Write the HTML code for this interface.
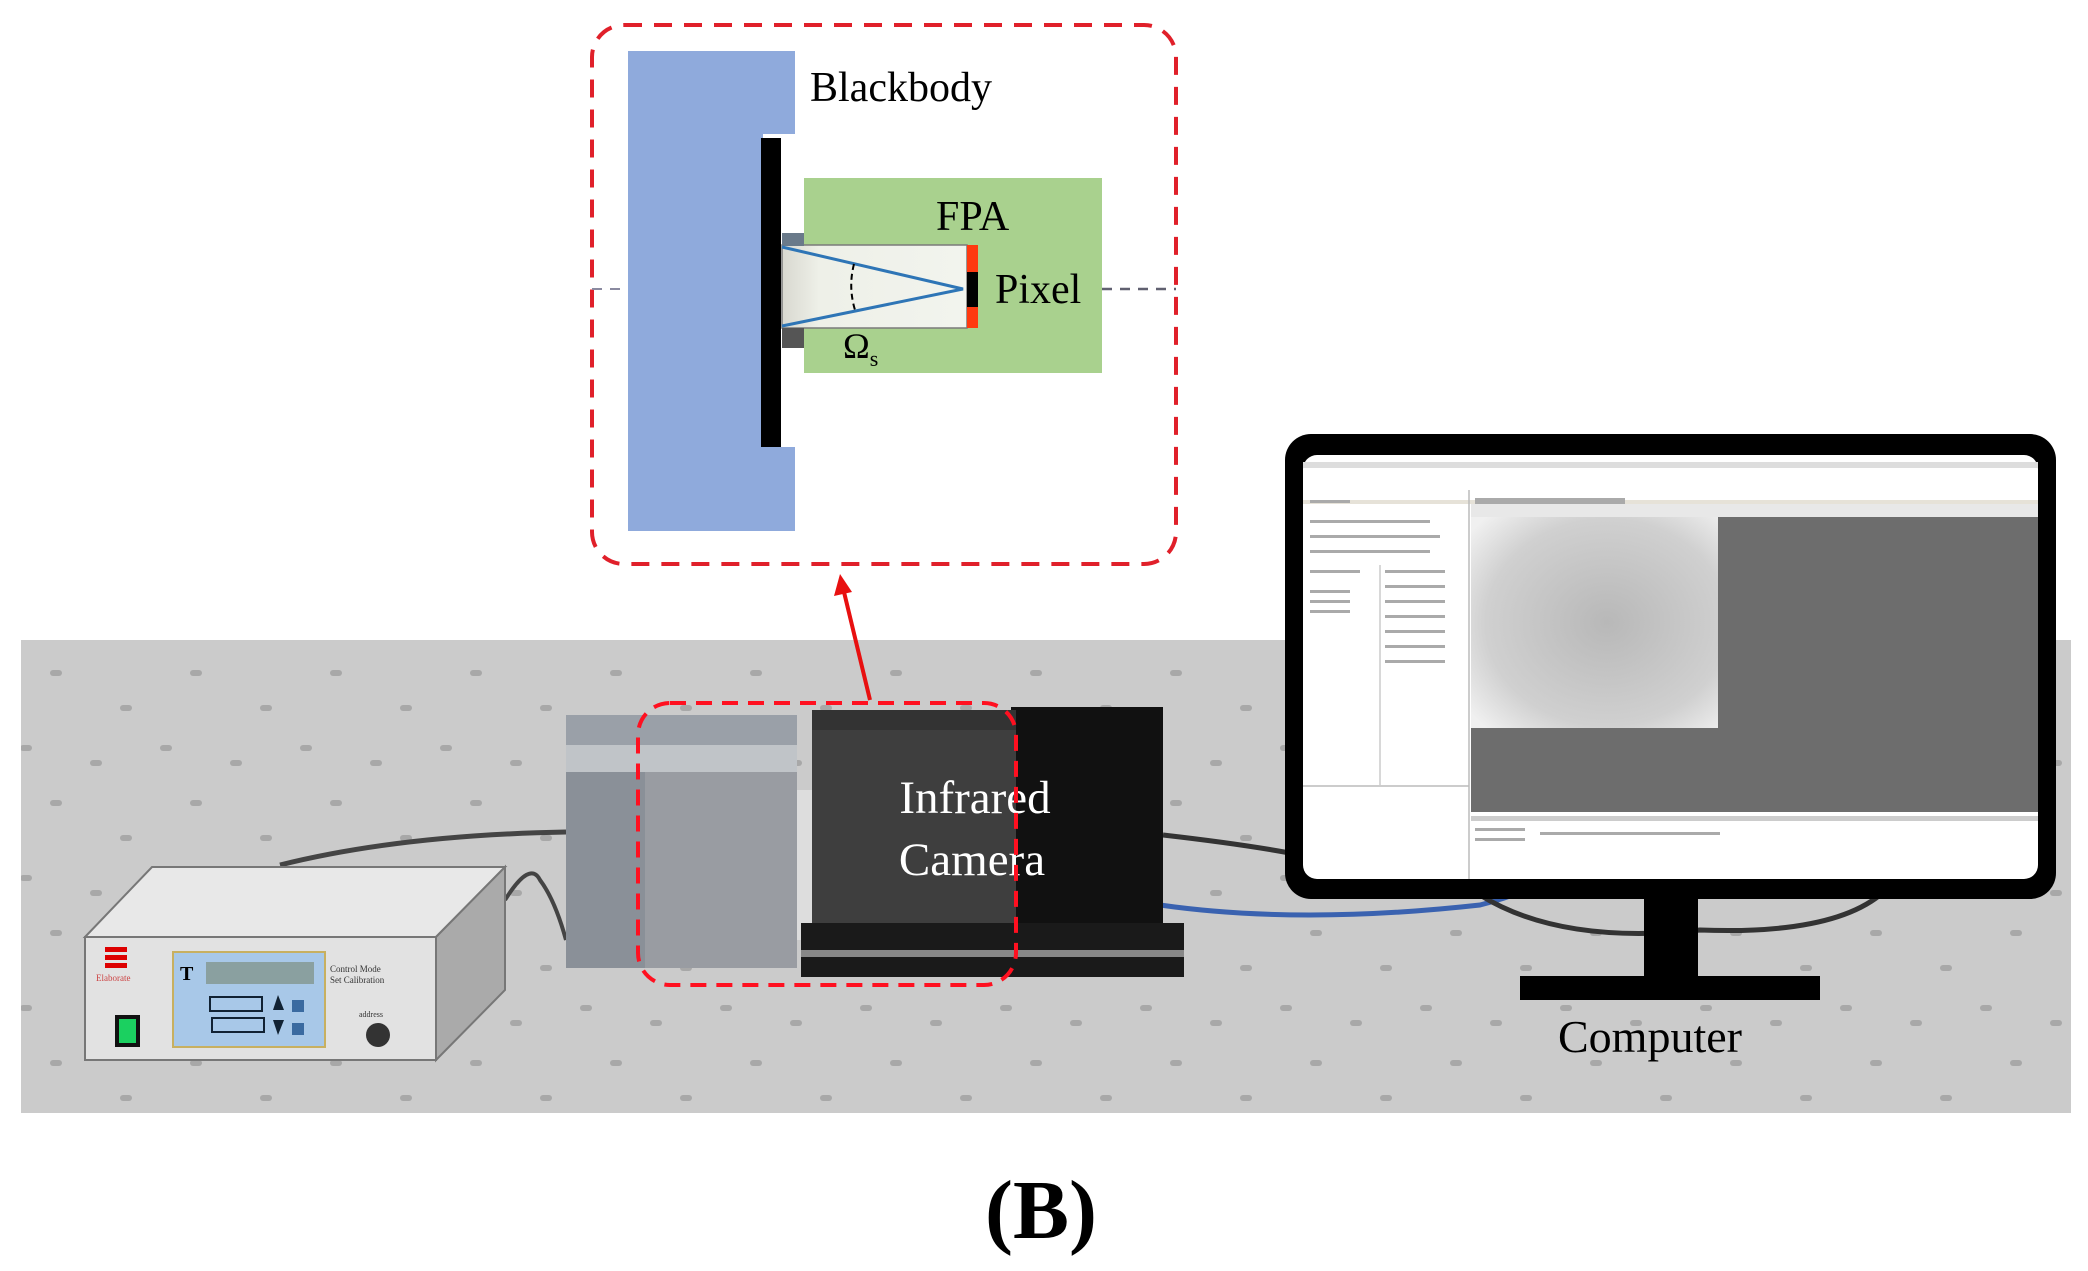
<!DOCTYPE html>
<html><head><meta charset="utf-8"><style>
html,body{margin:0;padding:0;background:#fff}
svg{display:block}
text{font-family:"Liberation Serif",serif}
</style></head><body>
<svg width="2088" height="1271" viewBox="0 0 2088 1271" xmlns="http://www.w3.org/2000/svg">
<defs>
<pattern id="dots" x="0" y="0" width="140" height="130" patternUnits="userSpaceOnUse">
<rect x="50" y="20" width="12" height="6" rx="3" fill="#a8a8a8"/>
<rect x="120" y="55" width="12" height="6" rx="3" fill="#a8a8a8"/>
<rect x="20" y="95" width="12" height="6" rx="3" fill="#a8a8a8"/>
<rect x="90" y="110" width="12" height="6" rx="3" fill="#a8a8a8"/>
</pattern>
<linearGradient id="tube" x1="0" x2="1" y1="0" y2="0">
<stop offset="0" stop-color="#d8d8d0"/><stop offset="0.2" stop-color="#eef0e8"/><stop offset="1" stop-color="#f2f4ee"/>
</linearGradient>
<radialGradient id="ir" cx="0.55" cy="0.5" r="0.7">
<stop offset="0" stop-color="#b8b8b8"/><stop offset="0.7" stop-color="#d0d0d0"/><stop offset="1" stop-color="#f0f0f0"/>
</radialGradient>
</defs>

<!-- table -->
<rect x="21" y="640" width="2050" height="473" fill="#cbcbcb"/>
<rect x="21" y="640" width="2050" height="473" fill="url(#dots)"/>

<!-- inset -->
<rect x="592" y="25" width="584" height="539" rx="32" fill="#fff" stroke="#e0202a" stroke-width="4" stroke-dasharray="18,12"/>
<path d="M628 51 H795 V134 H763 V447 H795 V531 H628 Z" fill="#8faadc"/>
<rect x="761" y="138" width="20" height="309" fill="#000"/>
<line x1="592" y1="289" x2="628" y2="289" stroke="#8a8aa0" stroke-width="2" stroke-dasharray="10,8"/>
<line x1="1102" y1="289" x2="1176" y2="289" stroke="#606070" stroke-width="2.5" stroke-dasharray="10,8"/>
<rect x="804" y="178" width="298" height="195" fill="#a9d18e"/>
<rect x="782" y="245" width="185" height="83" fill="url(#tube)" stroke="#7a7a7a" stroke-width="1.5"/>
<rect x="782" y="233" width="22" height="13" fill="#6a7a8a"/>
<rect x="782" y="328" width="22" height="20" fill="#555"/>
<rect x="967" y="245" width="11" height="83" fill="#ff3a10"/>
<rect x="967" y="272" width="11" height="35" fill="#000"/>
<polyline points="782,247 963,289 782,326" fill="none" stroke="#2e75b6" stroke-width="3"/>
<path d="M854 264 Q848 287 855 310" fill="none" stroke="#000" stroke-width="2" stroke-dasharray="6,4"/>
<text x="810" y="101" font-size="42" fill="#000">Blackbody</text>
<text x="936" y="230" font-size="42" fill="#000">FPA</text>
<text x="995" y="303" font-size="42" fill="#000">Pixel</text>
<text x="843" y="358" font-size="36" fill="#000">Ω<tspan font-size="22" dy="8">s</tspan></text>

<!-- cables -->
<path d="M280 865 Q400 835 566 832" fill="none" stroke="#444" stroke-width="5"/>
<path d="M505 900 Q530 860 540 880 Q555 900 566 940" fill="none" stroke="#444" stroke-width="4"/>
<path d="M1163 835 Q1250 845 1300 855" fill="none" stroke="#333" stroke-width="5"/>
<path d="M1160 905 Q1300 925 1480 905 Q1520 895 1545 880" fill="none" stroke="#3a62b0" stroke-width="5"/>
<path d="M1480 895 Q1560 945 1700 930 Q1830 935 1880 895" fill="none" stroke="#333" stroke-width="5"/>

<!-- blackbody device box -->
<polygon points="85,937 152,867 505,867 436,937" fill="#e8e8e8" stroke="#777" stroke-width="2"/>
<polygon points="436,937 505,867 505,990 436,1060" fill="#aaa" stroke="#777" stroke-width="2"/>
<rect x="85" y="937" width="351" height="123" fill="#e2e2e2" stroke="#777" stroke-width="2"/>
<rect x="105" y="947" width="22" height="5" fill="#d00"/><rect x="105" y="955" width="22" height="5" fill="#d00"/><rect x="105" y="963" width="22" height="5" fill="#d00"/>
<text x="96" y="981" font-size="9" fill="#c44">Elaborate</text>
<rect x="115" y="1015" width="25" height="32" fill="#111"/><rect x="119" y="1019" width="17" height="24" fill="#1bd060"/>
<rect x="173" y="952" width="152" height="95" fill="#a8c8e8" stroke="#c8b060" stroke-width="2"/>
<text x="180" y="980" font-size="20" font-weight="bold" fill="#000">T</text>
<rect x="206" y="962" width="108" height="22" fill="#8aa0a0"/>
<rect x="210" y="997" width="52" height="14" fill="none" stroke="#123" stroke-width="2"/>
<rect x="212" y="1018" width="52" height="14" fill="none" stroke="#123" stroke-width="2"/>
<rect x="292" y="1000" width="12" height="12" fill="#3a6aa0"/><rect x="292" y="1023" width="12" height="12" fill="#3a6aa0"/>
<polygon points="278,995 273,1010 284,1010" fill="#123"/><polygon points="278,1035 273,1020 284,1020" fill="#123"/>
<text x="330" y="972" font-size="9" fill="#333">Control  Mode</text>
<text x="330" y="983" font-size="9" fill="#333">Set  Calibration</text>
<circle cx="378" cy="1035" r="12" fill="#333"/>
<text x="359" y="1017" font-size="8" fill="#333">address</text>

<!-- blackbody cylinder -->
<rect x="566" y="715" width="231" height="253" fill="#8a9098"/>
<rect x="566" y="715" width="231" height="30" fill="#9aa0a8"/>
<rect x="566" y="745" width="231" height="27" fill="#c0c4c8"/>
<rect x="645" y="772" width="152" height="196" fill="#999ca2"/>
<rect x="797" y="790" width="15" height="150" fill="#ddd"/>

<!-- camera -->
<rect x="801" y="923" width="383" height="54" fill="#1a1a1a"/>
<rect x="801" y="950" width="383" height="7" fill="#888"/>
<rect x="1011" y="707" width="152" height="216" fill="#111"/>
<rect x="812" y="710" width="204" height="213" fill="#3e3e3e"/>
<rect x="812" y="710" width="204" height="20" fill="#333"/>
<text x="975" y="813" font-size="47" fill="#fff" text-anchor="middle">Infrared</text>
<text x="972" y="875" font-size="47" fill="#fff" text-anchor="middle">Camera</text>
<rect x="638" y="703" width="378" height="282" rx="32" fill="none" stroke="#ff1020" stroke-width="4" stroke-dasharray="16,10"/>

<!-- arrow -->
<line x1="870" y1="700" x2="844" y2="592" stroke="#e81010" stroke-width="4"/>
<polygon points="840,574 834,596 852,592" fill="#e81010"/>

<!-- monitor -->
<rect x="1644" y="895" width="54" height="83" fill="#000"/>
<rect x="1520" y="976" width="300" height="24" fill="#000"/>
<rect x="1285" y="434" width="771" height="465" rx="26" fill="#000"/>
<rect x="1303" y="455" width="735" height="424" rx="14" fill="#fff"/>
<rect x="1303" y="462" width="735" height="6" fill="#ddd"/>
<rect x="1303" y="500" width="735" height="4" fill="#e6e2d8"/>
<rect x="1471" y="504" width="567" height="13" fill="#e8e8e8"/>
<rect x="1471" y="517" width="567" height="295" fill="#6d6d6d"/>
<rect x="1471" y="517" width="247" height="211" fill="url(#ir)"/>
<line x1="1469" y1="490" x2="1469" y2="879" stroke="#bbb" stroke-width="1.5"/>
<line x1="1303" y1="786" x2="1469" y2="786" stroke="#bbb" stroke-width="1.5"/>
<line x1="1380" y1="565" x2="1380" y2="786" stroke="#ccc" stroke-width="1.5"/>
<rect x="1471" y="816" width="567" height="5" fill="#ccc"/>
<g fill="#aaa">
<rect x="1310" y="500" width="40" height="3"/><rect x="1310" y="520" width="120" height="3"/><rect x="1310" y="535" width="130" height="3"/>
<rect x="1310" y="550" width="120" height="3"/><rect x="1310" y="570" width="50" height="3"/><rect x="1385" y="570" width="60" height="3"/>
<rect x="1385" y="585" width="60" height="3"/><rect x="1385" y="600" width="60" height="3"/><rect x="1385" y="615" width="60" height="3"/>
<rect x="1385" y="630" width="60" height="3"/><rect x="1385" y="645" width="60" height="3"/><rect x="1385" y="660" width="60" height="3"/>
<rect x="1310" y="590" width="40" height="3"/><rect x="1310" y="600" width="40" height="3"/><rect x="1310" y="610" width="40" height="3"/>
<rect x="1475" y="828" width="50" height="3"/><rect x="1475" y="838" width="50" height="3"/><rect x="1540" y="832" width="180" height="3"/>
<rect x="1475" y="498" width="150" height="6"/>
</g>
<text x="1558" y="1052" font-size="46" fill="#000">Computer</text>

<!-- (B) -->
<text x="1041" y="1238" font-size="84" font-weight="bold" fill="#000" text-anchor="middle">(B)</text>
</svg>
</body></html>
